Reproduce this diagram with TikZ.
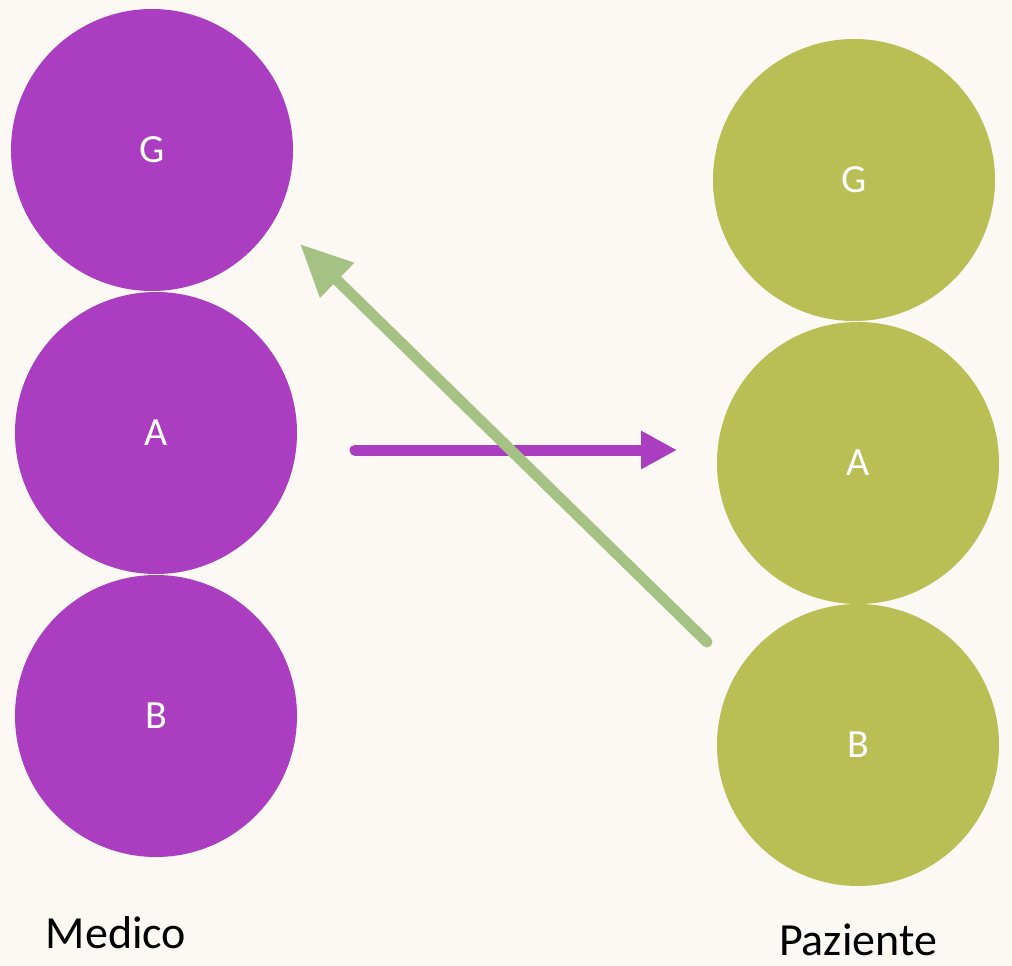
\documentclass[tikz,border=0pt]{standalone}
\usepackage{fontspec}
\setmainfont{Carlito}
\usetikzlibrary{arrows.meta}
\definecolor{bg}{HTML}{FCF9F4}
\definecolor{purp}{HTML}{AA3DC0}
\definecolor{olive}{HTML}{B9BE55}
\definecolor{sage}{HTML}{A5C284}
\tikzset{
  ball/.style={circle, minimum size=282pt, inner sep=0pt, text=white, font=\fontsize{40}{48}\selectfont},
  med/.style={ball, fill=purp},
  paz/.style={ball, fill=olive},
  lbl/.style={font=\fontsize{46}{54}\selectfont, text=black, inner sep=1pt},
}
\begin{document}
\begin{tikzpicture}[x=1pt,y=-1pt]
\fill[bg] (0,0) rectangle (1012,966);
\useasboundingbox (0,0) rectangle (1012,966);
\node[med] (mg) at (152,150) {G};
\node[med] (ma) at (156,433) {A};
\node[med] (mb) at (156,716) {B};
\node[paz] (pg) at (854,180) {G};
\node[paz] (pa) at (858,463) {A};
\node[paz] (pb) at (858,745) {B};
\node[lbl] (lm) at (116,933) {Medico};
\node[lbl] (lp) at (858,940) {Paziente};
\coordinate (s1) at (355,450);
\coordinate (e1) at (677,450);
\draw[purp, line width=11pt, line cap=round, -{Triangle[length=36pt,width=36pt]}] (s1) -- (e1);
\coordinate (s2) at (707,642);
\coordinate (e2) at (300,244);
\draw[sage, line width=11pt, line cap=round, -{Triangle[length=52pt,width=46pt]}] (s2) -- (e2);
\end{tikzpicture}
\end{document}
